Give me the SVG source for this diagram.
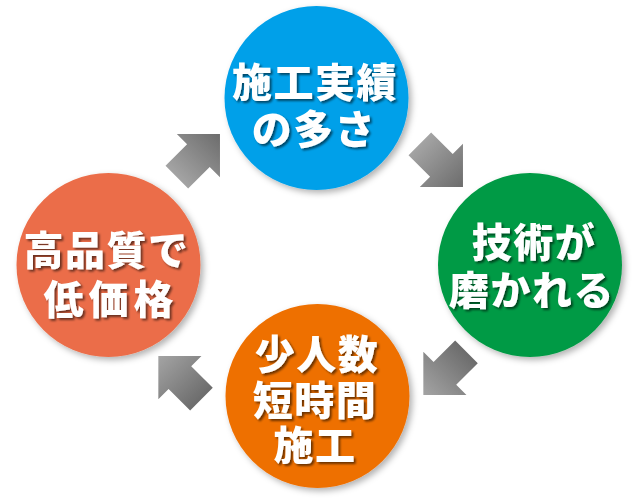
<svg xmlns="http://www.w3.org/2000/svg" width="640" height="500" viewBox="0 0 640 500">
  <defs>
    <linearGradient id="toHead" x1="0" y1="0" x2="1" y2="0">
      <stop offset="0" stop-color="#a4a4a4"/>
      <stop offset="1" stop-color="#6c6c6c"/>
    </linearGradient>
    <linearGradient id="toTail" x1="0" y1="0" x2="1" y2="0">
      <stop offset="0" stop-color="#6c6c6c"/>
      <stop offset="1" stop-color="#a4a4a4"/>
    </linearGradient>
    <filter id="cshadow" x="-20%" y="-20%" width="140%" height="140%">
      <feDropShadow dx="3" dy="3" stdDeviation="3" flood-color="#000" flood-opacity="0.3"/>
    </filter>
    <filter id="tshadow" x="-10%" y="-10%" width="120%" height="130%">
      <feDropShadow dx="2" dy="2" stdDeviation="1" flood-color="#000" flood-opacity="0.55"/>
    </filter>
    <path id="arrow" d="M30.5,0 L0,-30.5 L0,-16 L-30.5,-16 L-30.5,16 L0,16 L0,30.5 Z"/>
  </defs>
  <style>
    .lbl { font-family: "Noto Sans CJK JP", "Noto Sans", sans-serif; font-weight: 900; font-size: 40px; letter-spacing: 1.5px; fill: #ffffff; text-anchor: middle; filter: url(#tshadow); }
    .circ { filter: url(#cshadow); }
  </style>
  <rect width="640" height="500" fill="#ffffff"/>

  <g id="connectors">
    <use href="#arrow" fill="url(#toHead)" transform="translate(198.4,155.6) rotate(-45)"/>
    <use href="#arrow" fill="url(#toHead)" transform="translate(441.4,165.4) rotate(45)"/>
    <use href="#arrow" fill="url(#toTail)" transform="translate(444.9,373.4) rotate(135)"/>
    <use href="#arrow" fill="url(#toTail)" transform="translate(179.9,377.6) rotate(225)"/>
  </g>

  <g id="node-jisseki">
    <circle class="circ" cx="316.5" cy="98" r="92" fill="#00a0e9"/>
    <text class="lbl"><tspan x="315" y="97">施工実績</tspan><tspan x="314" y="144">の多さ</tspan></text>
  </g>

  <g id="node-gijutsu">
    <circle class="circ" cx="530" cy="265" r="92" fill="#009a44"/>
    <text class="lbl"><tspan x="534" y="257">技術が</tspan><tspan x="532" y="305">磨かれる</tspan></text>
  </g>

  <g id="node-shoninzu">
    <circle class="circ" cx="317.5" cy="396" r="92" fill="#ee6f00"/>
    <text class="lbl"><tspan x="317" y="369">少人数</tspan><tspan x="315" y="415">短時間</tspan><tspan x="315" y="460">施工</tspan></text>
  </g>

  <g id="node-kohinshitsu">
    <circle class="circ" cx="108.5" cy="265" r="92" fill="#eb6d48"/>
    <text class="lbl"><tspan x="106.5" y="265">高品質で</tspan><tspan x="111" y="314" letter-spacing="5">低価格</tspan></text>
  </g>
</svg>
